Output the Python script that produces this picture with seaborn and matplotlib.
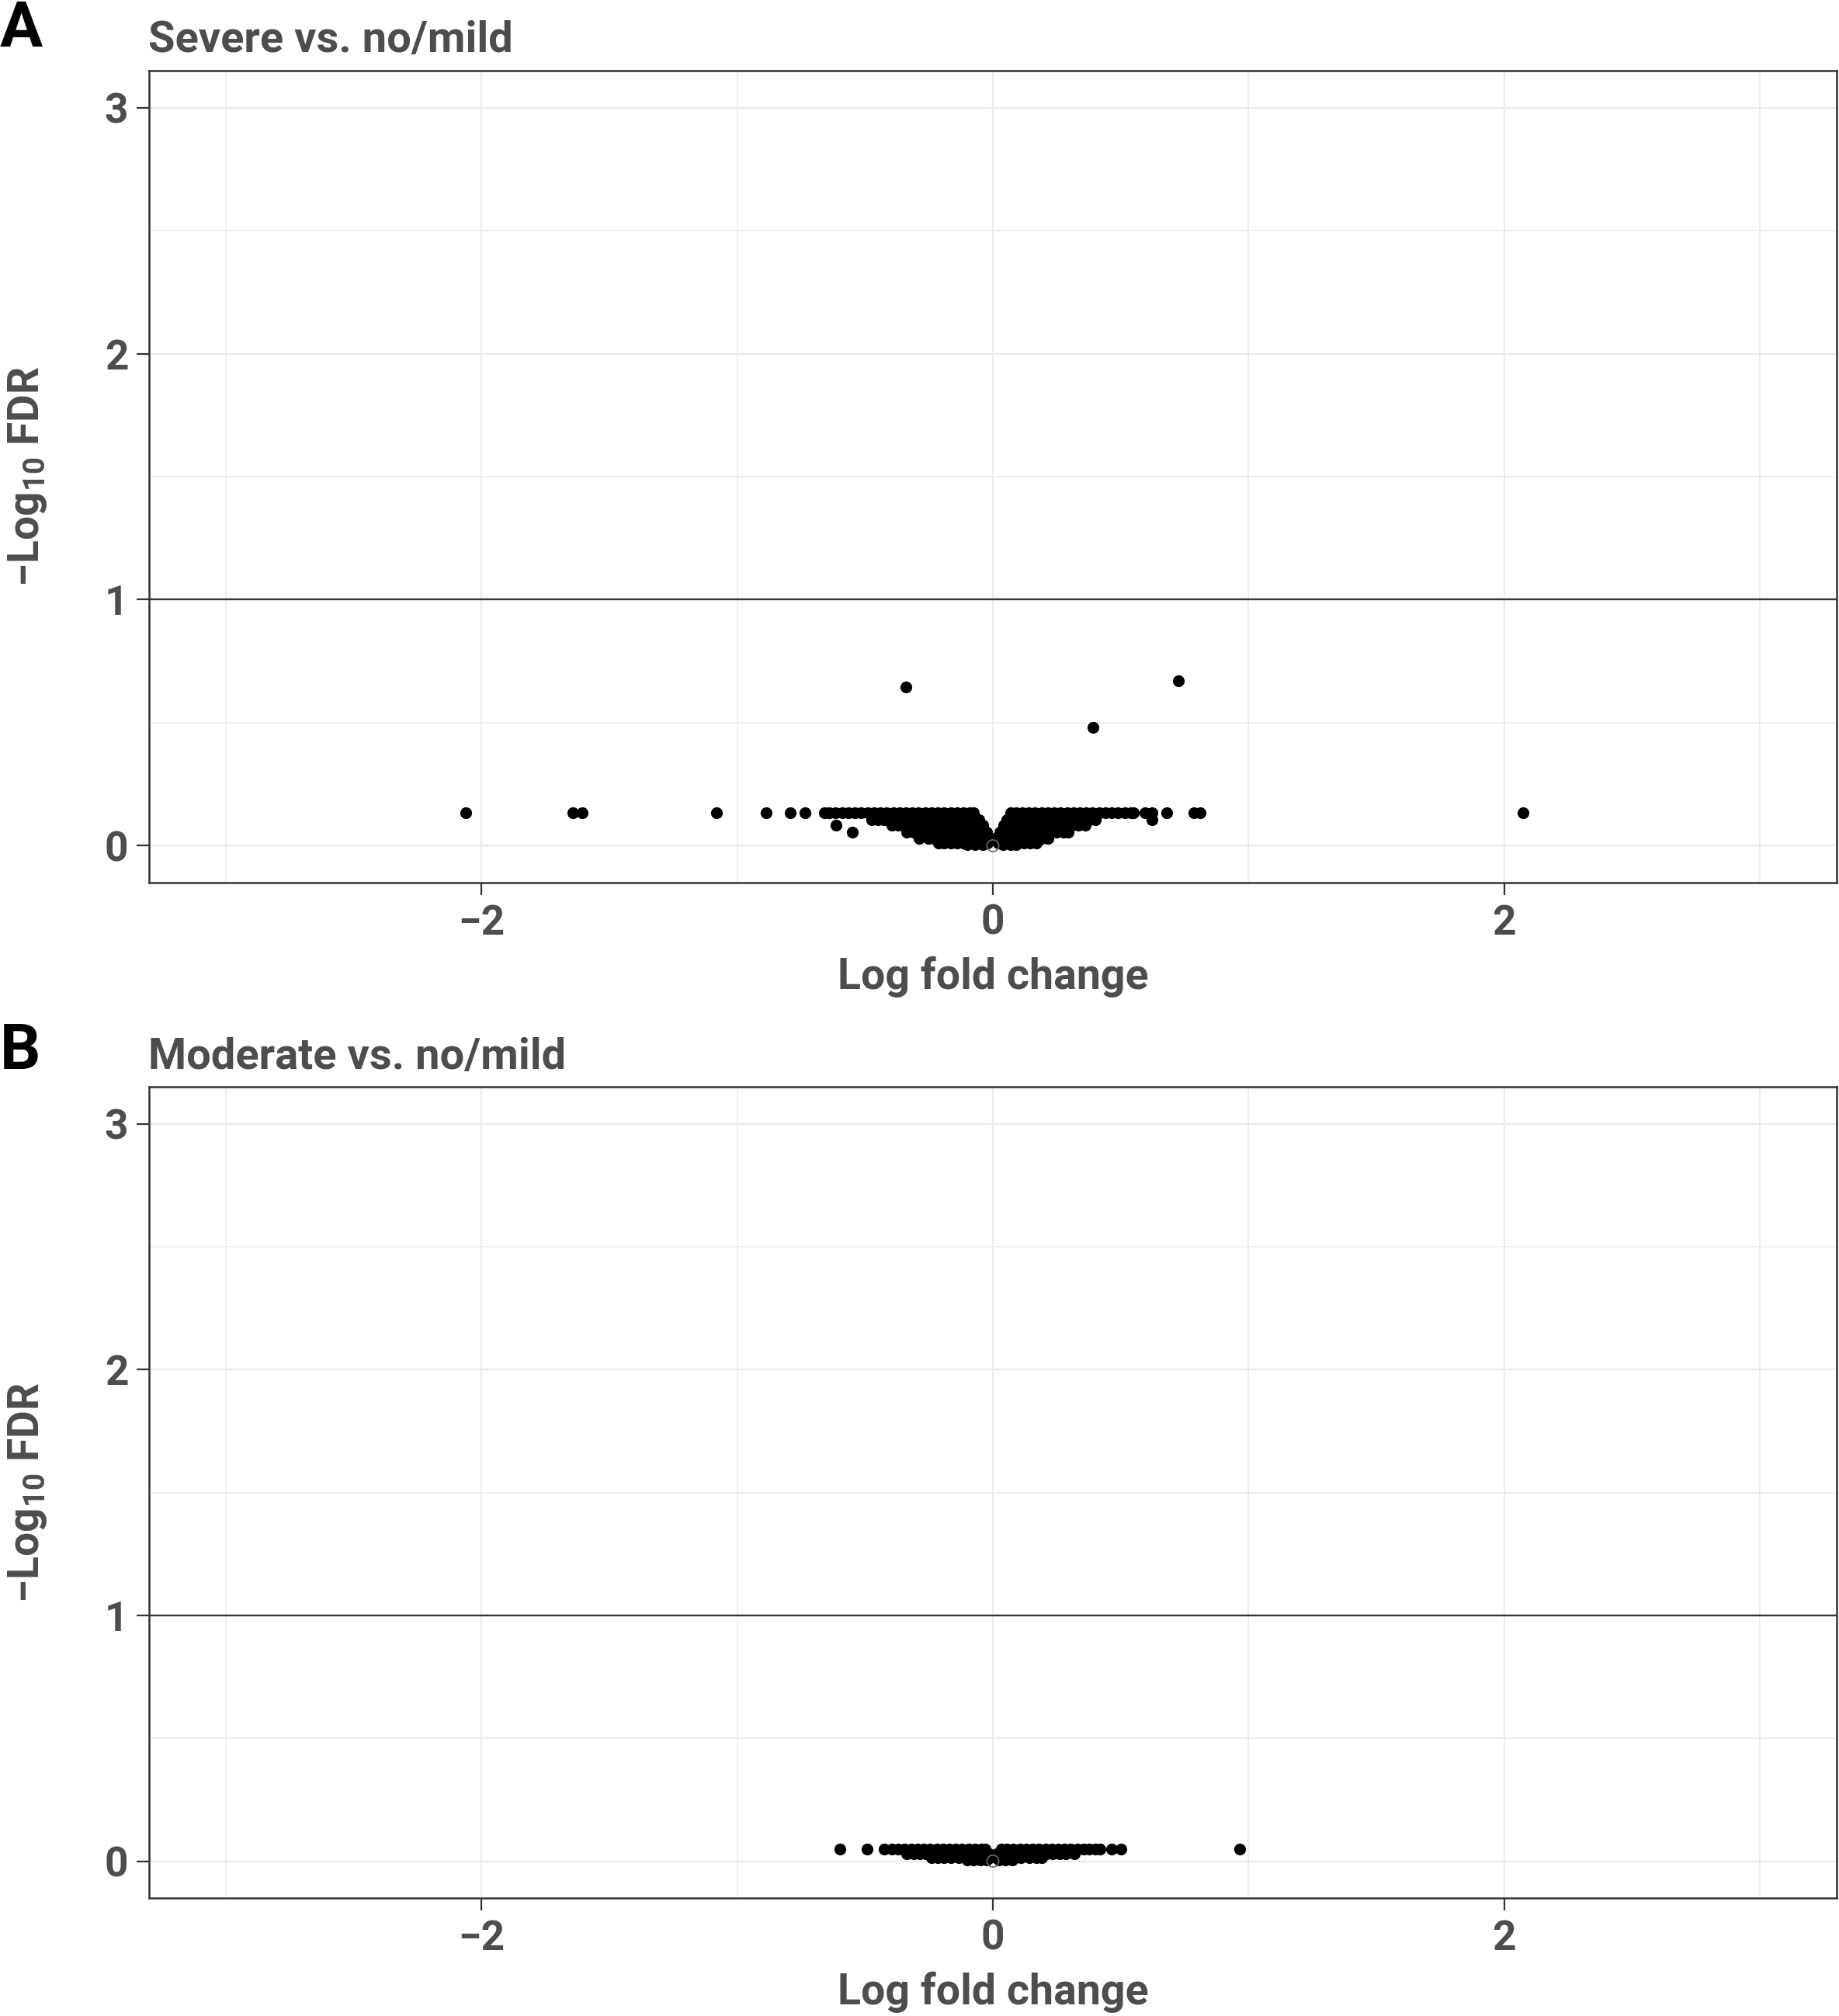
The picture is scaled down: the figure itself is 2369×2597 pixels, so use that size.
import pandas as pd
import matplotlib
matplotlib.use("Agg")
import matplotlib.pyplot as plt
from matplotlib.ticker import MultipleLocator
import seaborn as sns

# --- Panel A: severe vs. no/mild (log fold change, -log10 FDR) ---
sev_top_x = [-2.06, -1.643, -1.607, -1.082, -0.885, -0.791, -0.734, -0.66,
             -0.64, -0.615, -0.59, -0.565, -0.54, -0.515, -0.49, -0.465,
             -0.44, -0.415, -0.39, -0.365, -0.34, -0.315, -0.29, -0.265,
             -0.24, -0.215, -0.19, -0.165, -0.14, -0.115, -0.09, -0.075,
             0.07, 0.09, 0.115, 0.14, 0.165, 0.19, 0.215, 0.24, 0.265, 0.29,
             0.315, 0.34, 0.365, 0.39, 0.415, 0.44, 0.465, 0.49, 0.515, 0.54,
             0.549, 0.596, 0.621, 0.681, 0.787, 0.812, 2.072]
sev_top_y = 0.134
sev_r2_x = [-0.474, -0.45, -0.425, -0.40, -0.375, -0.35, -0.325, -0.30,
            -0.275, -0.25, -0.225, -0.20, -0.175, -0.15, -0.125, -0.10,
            -0.075, -0.055, 0.055, 0.075, 0.10, 0.125, 0.15, 0.175, 0.20,
            0.225, 0.25, 0.275, 0.30, 0.325, 0.35, 0.375, 0.40, 0.621]
sev_r2_y = 0.107
sev_r3_x = [-0.394, -0.37, -0.345, -0.32, -0.295, -0.27, -0.245, -0.22,
            -0.195, -0.17, -0.145, -0.12, -0.095, -0.07, -0.04, 0.042,
            0.06, 0.085, 0.11, 0.135, 0.16, 0.185, 0.21, 0.235, 0.26, 0.285,
            0.31, 0.335, 0.36, -0.613]
sev_r3_y = 0.084
sev_r4_x = [-0.337, -0.31, -0.285, -0.26, -0.235, -0.21, -0.185, -0.16,
            -0.135, -0.11, -0.085, -0.06, -0.025, 0.028, 0.05, 0.075, 0.10,
            0.125, 0.15, 0.175, 0.20, 0.225, 0.25, 0.275, 0.295, -0.55]
sev_r4_y = 0.054
sev_r5_x = [-0.289, -0.253, -0.23, -0.205, -0.18, -0.155, -0.13, -0.105,
            -0.08, -0.055, -0.03, -0.01, 0.01, 0.035, 0.06, 0.085, 0.11,
            0.135, 0.16, 0.19, 0.215]
sev_r5_y = 0.03
sev_r6_x = [-0.213, -0.19, -0.165, -0.14, -0.115, -0.09, -0.065, -0.04,
            -0.02, 0.02, 0.045, 0.07, 0.095, 0.12, 0.145, 0.17]
sev_r6_y = 0.012
sev_r7_x = [-0.1, -0.07, -0.04, 0.04, 0.07, 0.09]
sev_r7_y = 0.004
sev_high_x = [-0.34, 0.727, 0.391]
sev_high_y = [0.646, 0.671, 0.48]

# --- Panel B: moderate vs. no/mild ---
mod_top_x = [-0.597, -0.493, -0.425, -0.395, -0.37, -0.345, -0.32, -0.295,
             -0.27, -0.245, -0.22, -0.195, -0.17, -0.145, -0.12, -0.095,
             -0.07, -0.045, -0.03, 0.032, 0.055, 0.08, 0.105, 0.13, 0.155,
             0.18, 0.205, 0.23, 0.255, 0.28, 0.305, 0.33, 0.355, 0.376, 0.40,
             0.42, 0.466, 0.50, 0.965]
mod_top_y = 0.049
mod_r2_x = [-0.337, -0.31, -0.285, -0.26, -0.235, -0.21, -0.185, -0.16,
            -0.135, -0.11, -0.085, -0.06, -0.035, -0.015, 0.015, 0.035,
            0.06, 0.085, 0.11, 0.135, 0.16, 0.185, 0.21, 0.235, 0.26, 0.285,
            0.32]
mod_r2_y = 0.029
mod_r3_x = [-0.24, -0.215, -0.19, -0.165, -0.135, -0.11, -0.085, -0.06,
            -0.035, -0.012, 0.012, 0.035, 0.06, 0.085, 0.11, 0.143, 0.17,
            0.19]
mod_r3_y = 0.013
mod_r4_x = [-0.1, -0.075, -0.05, -0.025, 0.025, 0.05, 0.075]
mod_r4_y = 0.004

# the gene sitting right at the origin, drawn hollow in both panels
origin_x = [0.0]
origin_y = [0.0]

fdr_cutoff = 1.0
panel_titles = ["Severe vs. no/mild", "Moderate vs. no/mild"]
panel_letters = ["A", "B"]


def rows_to_frame(rows):
    xs, ys = [], []
    for row_x, row_y in rows:
        if isinstance(row_y, list):
            xs += row_x
            ys += row_y
        else:
            xs += row_x
            ys += [row_y] * len(row_x)
    return pd.DataFrame({"logFC": xs, "neglog10FDR": ys})


df_sev = rows_to_frame([(sev_top_x, sev_top_y), (sev_r2_x, sev_r2_y),
                        (sev_r3_x, sev_r3_y), (sev_r4_x, sev_r4_y),
                        (sev_r5_x, sev_r5_y), (sev_r6_x, sev_r6_y),
                        (sev_r7_x, sev_r7_y), (sev_high_x, sev_high_y)])
df_mod = rows_to_frame([(mod_top_x, mod_top_y), (mod_r2_x, mod_r2_y),
                        (mod_r3_x, mod_r3_y), (mod_r4_x, mod_r4_y)])
df_origin = pd.DataFrame({"logFC": origin_x, "neglog10FDR": origin_y})

sns.set_theme(style="white")
plt.rcParams["font.family"] = ["Roboto", "DejaVu Sans"]
plt.rcParams["mathtext.default"] = "regular"
plt.rcParams["axes.unicode_minus"] = True

W, H, DPI = 2369, 2597, 200
fig = plt.figure(figsize=(W / DPI, H / DPI), dpi=DPI)

text_grey = "#4d4d4d"
line_grey = "#333333"
axes_px = [(192, 91, 2366, 1137), (192, 1400, 2366, 2445)]
title_base = [67, 1377]
letter_base = [60, 1377]
fs = 19.2
wt = "bold"

for i, (df, box) in enumerate(zip([df_sev, df_mod], axes_px)):
    x0, y0, x1, y1 = box
    ax = fig.add_axes([x0 / W, 1 - y1 / H, (x1 - x0) / W, (y1 - y0) / H])

    ax.set_xlim(-3.3, 3.3)
    ax.set_ylim(-0.15, 3.15)
    ax.xaxis.set_major_locator(MultipleLocator(2))
    ax.xaxis.set_minor_locator(MultipleLocator(1))
    ax.yaxis.set_major_locator(MultipleLocator(1))
    ax.yaxis.set_minor_locator(MultipleLocator(0.5))
    ax.grid(which="major", color="#ebebeb", linewidth=0.8, zorder=0)
    ax.grid(which="minor", color="#ebebeb", linewidth=0.6, zorder=0)
    ax.set_axisbelow(True)

    ax.axhline(fdr_cutoff, color="#383838", linewidth=0.85, zorder=1)

    sns.scatterplot(data=df, x="logFC", y="neglog10FDR", ax=ax,
                    color="black", s=30, edgecolor=None, linewidth=0,
                    zorder=3, legend=False)
    sns.scatterplot(data=df_origin, x="logFC", y="neglog10FDR", ax=ax,
                    facecolor="none", edgecolor="#6a6a6a", s=30,
                    linewidth=0.6, zorder=4, legend=False)

    for side in ["left", "right", "top", "bottom"]:
        ax.spines[side].set_color(line_grey)
        ax.spines[side].set_linewidth(0.9)
    ax.tick_params(which="major", length=5.8, width=0.8, color=line_grey,
                   labelsize=fs, labelcolor=text_grey, pad=3.8,
                   left=True, bottom=True)
    ax.tick_params(which="minor", length=0)
    for lab in ax.get_xticklabels() + ax.get_yticklabels():
        lab.set_fontweight(wt)

    ax.set_xlabel("Log fold change", fontsize=20, color=text_grey,
                  fontweight=wt, labelpad=6)
    ax.set_ylabel("\u2212Log$_{10}$ FDR", fontsize=fs + 0.6, color=text_grey,
                  fontweight=wt, labelpad=26)

    fig.text(191 / W, 1 - title_base[i] / H, panel_titles[i], fontsize=20.2,
             color=text_grey, fontweight=wt, ha="left", va="baseline")
    fig.text(0, 1 - letter_base[i] / H, panel_letters[i], fontsize=29.5,
             color="black", fontweight="bold", ha="left", va="baseline")

fig.savefig("out.png", dpi=DPI)
plt.close(fig)
